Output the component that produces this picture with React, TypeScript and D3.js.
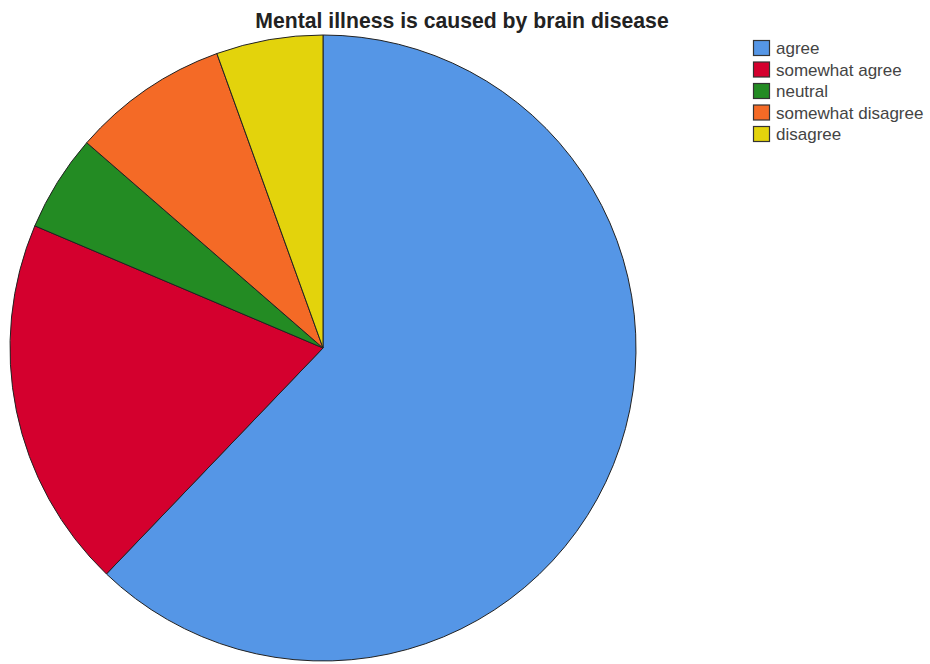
import React from "react";
import * as d3 from "d3";

const categories = ["agree", "somewhat agree", "neutral", "somewhat disagree", "disagree"];
const values = [62.1, 19.2, 5.0, 8.1, 5.5];
const colors = ["#5596e6", "#d4002e", "#238b23", "#f46a26", "#e3d30c"];
const title = "Mental illness is caused by brain disease";

export default function App() {
  const width = 930, height = 664;
  const cx = 323, cy = 348, r = 313;
  const pie = d3.pie<number>().sort(null).value((d) => d);
  const arcs = pie(values);
  const arc = d3.arc<d3.PieArcDatum<number>>().innerRadius(0).outerRadius(r);
  return (
    <svg width={width} height={height} style={{ position: "absolute", left: 0, top: 0, background: "#fff" }}
      fontFamily="Arial, 'Liberation Sans', sans-serif">
      <text x={462} y={28} textAnchor="middle" fontSize={21.2} fontWeight="bold" fill="#222">{title}</text>
      <g transform={`translate(${cx},${cy})`}>
        {arcs.map((a, i) => (
          <path key={i} d={arc(a) || ""} fill={colors[i]} stroke="#222" strokeWidth={1} />
        ))}
      </g>
      <g transform="translate(753,40)">
        {categories.map((c, i) => (
          <g key={c} transform={`translate(0,${i * 21.5})`}>
            <rect x={0.5} y={0.5} width={16} height={15} fill={colors[i]} stroke="#333" strokeWidth={1.2} />
            <text x={23} y={14} fontSize={17} fill="#444">{c}</text>
          </g>
        ))}
      </g>
    </svg>
  );
}
